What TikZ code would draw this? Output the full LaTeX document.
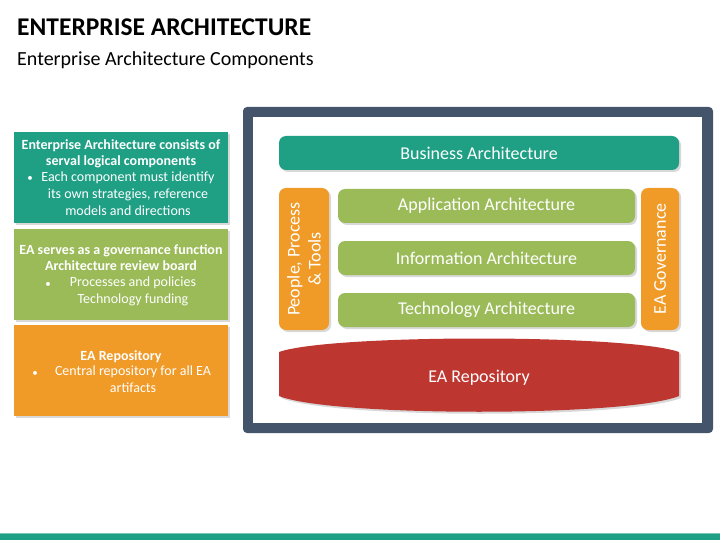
\documentclass[tikz,border=0pt]{standalone}
\usepackage{fontspec}
\setmainfont{Carlito}
\usetikzlibrary{shadows}
\definecolor{eateal}{RGB}{31,160,133}
\definecolor{eagreen}{RGB}{155,187,89}
\definecolor{eaorange}{RGB}{240,154,40}
\definecolor{eared}{RGB}{190,54,48}
\definecolor{eaframe}{RGB}{68,84,106}
\tikzset{
  infobox/.style={draw=none, minimum width=214pt, minimum height=91pt, inner sep=0pt,
    drop shadow={opacity=0.3, shadow xshift=2pt, shadow yshift=-2pt}},
  layer/.style={rounded corners=7pt, minimum height=34pt, inner sep=0pt, text=white,
    font=\fontsize{18}{21}\selectfont,
    drop shadow={opacity=0.3, shadow xshift=2pt, shadow yshift=-2pt}},
  infotext/.style={text=white, align=center, font=\fontsize{14}{16.7}\selectfont, inner sep=0pt}
}
\begin{document}
\begin{tikzpicture}[x=1pt,y=-1pt]
            \useasboundingbox (0,0) rectangle (720,540);
            % heading
            \node[anchor=base west, inner sep=0pt, font=\fontsize{25.5}{30}\selectfont\bfseries] (title) at (17,36) {ENTERPRISE ARCHITECTURE};
            \node[anchor=base west, inner sep=0pt, font=\fontsize{20}{24}\selectfont] (subtitle) at (17,66) {Enterprise Architecture Components};
            \fill[eateal!60] (0,533) rectangle (720,534);
            \fill[eateal] (0,534) rectangle (720,540);

            % left info boxes
            \node[infobox, fill=eateal, anchor=north west] (box1) at (14,132) {};
            \node[infobox, fill=eagreen, anchor=north west] (box2) at (14,229) {};
            \node[infobox, fill=eaorange, anchor=north west] (box3) at (14,325) {};

            \node[infotext, anchor=north] (box1head) at (121,139) {\bfseries Enterprise Architecture consists of\\\bfseries serval logical components};
            \node[infotext, anchor=north] (box1body) at (128,172) {Each component must identify\\its own strategies, reference\\models and directions};
            \node[infotext, anchor=base, font=\fontsize{11}{13}\selectfont] (box1dot) at (30,182) {\textbullet};

            \node[infotext, anchor=north] (box2head) at (121,244) {\bfseries EA serves as a governance function\\\bfseries Architecture review board};
            \node[infotext, anchor=north] (box2body) at (133,277) {Processes and policies\\Technology funding};
            \node[infotext, anchor=base, font=\fontsize{11}{13}\selectfont] (box2dot) at (48,287) {\textbullet};

            \node[infotext, anchor=north] (box3head) at (121,350) {\bfseries EA Repository};
            \node[infotext, anchor=north] (box3body) at (133,366) {Central repository for all EA\\artifacts};
            \node[infotext, anchor=base, font=\fontsize{11}{13}\selectfont] (box3dot) at (35,376) {\textbullet};

            % frame
            \fill[eaframe, rounded corners=4pt] (243,107) rectangle (713,433);
            \fill[white] (253,117) rectangle (702,423);

            % layers
            \node[layer, fill=eateal, minimum width=400pt] (business) at (479,153) {Business Architecture};
            \node[layer, fill=eagreen, minimum width=297pt] (application) at (486.5,206) {Application Architecture};
            \node[layer, fill=eagreen, minimum width=297pt] (information) at (486.5,258) {Information Architecture};
            \node[layer, fill=eagreen, minimum width=297pt] (technology) at (486.5,310) {Technology Architecture};
            \node[layer, fill=eaorange, minimum width=50pt, minimum height=142pt] (people) at (304,259) {};
            \node[text=white, rotate=90, align=center, font=\fontsize{18}{21}\selectfont, inner sep=0pt] (peopletext) at (304,259) {People, Process\\\& Tools};
            \node[layer, fill=eaorange, minimum width=38pt, minimum height=142pt] (governance) at (660,259) {};
            \node[text=white, rotate=90, font=\fontsize{18}{21}\selectfont, inner sep=0pt] (governancetext) at (660,259) {EA Governance};

            % repository
            \fill[eared, drop shadow={opacity=0.3, shadow xshift=2pt, shadow yshift=-2pt}]
              (279,352) .. controls (330,334) and (628,334) .. (679,352) -- (679,396)
              .. controls (628,417) and (330,417) .. (279,396) -- cycle;
            \node[text=white, font=\fontsize{18}{21}\selectfont, inner sep=0pt] (repository) at (479,378) {EA Repository};
        \end{tikzpicture}
\end{document}
